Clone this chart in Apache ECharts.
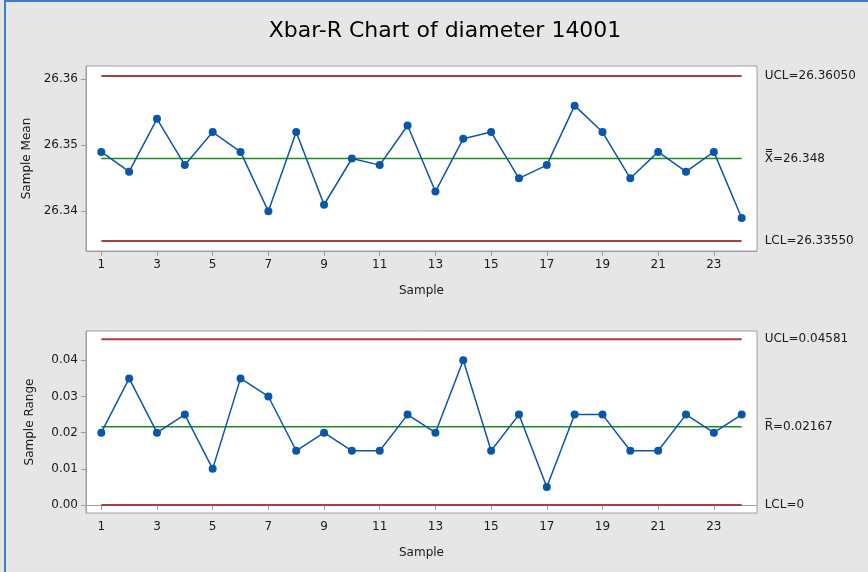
<!DOCTYPE html>
<html>
<head>
<meta charset="utf-8">
<script src="https://cdn.jsdelivr.net/npm/echarts@6/dist/echarts.min.js"></script>
<style>
  html, body { margin: 0; padding: 0; background: #e6e6e6; }
  #chart { width: 868px; height: 572px; }
</style>
</head>
<body>
<div id="chart"></div>
<script>
// 样本编号
const samples = [1, 2, 3, 4, 5, 6, 7, 8, 9, 10, 11, 12, 13, 14, 15, 16, 17, 18, 19, 20, 21, 22, 23, 24];
// Xbar 子组均值
const meanValues = [26.349, 26.346, 26.354, 26.347, 26.352, 26.349, 26.340, 26.352, 26.341, 26.348, 26.347, 26.353,
  26.343, 26.351, 26.352, 26.345, 26.347, 26.356, 26.352, 26.345, 26.349, 26.346, 26.349, 26.339];
// R 子组极差
const rangeValues = [0.020, 0.035, 0.020, 0.025, 0.010, 0.035, 0.030, 0.015, 0.020, 0.015, 0.015, 0.025,
  0.020, 0.040, 0.015, 0.025, 0.005, 0.025, 0.025, 0.015, 0.015, 0.025, 0.020, 0.025];
// 控制限
const xbarLimits = { ucl: 26.3605, cl: 26.348, lcl: 26.3355 };
const rLimits = { ucl: 0.04581, cl: 0.02167, lcl: 0 };
// 刻度
const sampleTicks = [1, 3, 5, 7, 9, 11, 13, 15, 17, 19, 21, 23];
const meanTicks = [26.34, 26.35, 26.36];
const rangeTicks = [0, 0.01, 0.02, 0.03, 0.04];

const first = samples[0];
const last = samples[samples.length - 1];
const textColor = "#1a1a1a";
const axisGrey = "#a0a0a0";
const font = "DejaVu Sans";

function xAxisCfg(gridIndex) {
  return {
    type: "value",
    gridIndex: gridIndex,
    min: 0.45,
    max: 24.55,
    name: "Sample",
    nameLocation: "middle",
    nameGap: 34,
    nameTextStyle: { color: textColor, fontFamily: font, fontSize: 12 },
    axisLine: { show: true, lineStyle: { color: axisGrey } },
    axisTick: { show: true, length: 5, customValues: sampleTicks, lineStyle: { color: axisGrey } },
    axisLabel: { customValues: sampleTicks, color: textColor, fontFamily: font, fontSize: 12, margin: 8 },
    splitLine: { show: false },
  };
}

function yAxisCfg(gridIndex, name, min, max, ticks, digits) {
  return {
    type: "value",
    gridIndex: gridIndex,
    min: min,
    max: max,
    name: name,
    nameLocation: "middle",
    nameGap: 50,
    nameTextStyle: { color: textColor, fontFamily: font, fontSize: 12 },
    axisLine: { show: true, lineStyle: { color: axisGrey } },
    axisTick: { show: true, length: 5, customValues: ticks, lineStyle: { color: axisGrey } },
    axisLabel: {
      customValues: ticks,
      color: textColor,
      fontFamily: font,
      fontSize: 12,
      margin: 8,
      formatter: (v) => v.toFixed(digits),
    },
    splitLine: { show: false },
  };
}

function limitLine(xi, value, color, width, text) {
  return {
    type: "line",
    xAxisIndex: xi,
    yAxisIndex: xi,
    data: [[first, value], [last, value]],
    symbol: "none",
    silent: true,
    clip: false,
    lineStyle: { color: color, width: width },
    endLabel: {
      show: true,
      formatter: text,
      distance: 23,
      color: textColor,
      fontFamily: font,
      fontSize: 12,
    },
    z: 2,
  };
}

function dataLine(xi, values) {
  return {
    type: "line",
    xAxisIndex: xi,
    yAxisIndex: xi,
    data: samples.map((s, i) => [s, values[i]]),
    symbol: "circle",
    symbolSize: 8,
    itemStyle: { color: "#0a56a8" },
    lineStyle: { color: "#0a56a8", width: 1.5 },
    z: 5,
  };
}

const chart = echarts.init(document.getElementById("chart"));
chart.setOption({
  backgroundColor: "#e6e6e6",
  animation: false,
  title: {
    text: "Xbar-R Chart of diameter 14001",
    left: 440,
    textAlign: "center",
    top: 15,
    textStyle: { color: "#000000", fontFamily: font, fontSize: 22, fontWeight: "normal" },
  },
  graphic: [
    { type: "line", shape: { x1: 5, y1: 0, x2: 5, y2: 572 }, style: { stroke: "#3d7cc9", lineWidth: 2 } },
    { type: "line", shape: { x1: 5, y1: 1, x2: 868, y2: 1 }, style: { stroke: "#3d7cc9", lineWidth: 2 } },
  ],
  grid: [
    { left: 86, top: 66, width: 671, height: 185, show: true, backgroundColor: "#ffffff", borderColor: axisGrey },
    { left: 86, top: 331, width: 671, height: 182, show: true, backgroundColor: "#ffffff", borderColor: axisGrey },
  ],
  xAxis: [xAxisCfg(0), xAxisCfg(1)],
  yAxis: [
    yAxisCfg(0, "Sample Mean", 26.334, 26.362, meanTicks, 2),
    yAxisCfg(1, "Sample Range", -0.0022, 0.0481, rangeTicks, 2),
  ],
  series: [
    limitLine(0, xbarLimits.ucl, "#b03c3c", 2, "UCL=" + xbarLimits.ucl.toFixed(5)),
    limitLine(0, xbarLimits.cl, "#1e8c1e", 1.5, "X\u033F=" + xbarLimits.cl.toFixed(3)),
    limitLine(0, xbarLimits.lcl, "#b03c3c", 2, "LCL=" + xbarLimits.lcl.toFixed(5)),
    dataLine(0, meanValues),
    limitLine(1, rLimits.ucl, "#b03c3c", 2, "UCL=" + rLimits.ucl.toFixed(5)),
    limitLine(1, rLimits.cl, "#1e8c1e", 1.5, "R\u0305=" + rLimits.cl.toFixed(5)),
    limitLine(1, rLimits.lcl, "#b03c3c", 2, "LCL=" + rLimits.lcl),
    dataLine(1, rangeValues),
  ],
});
window.addEventListener("resize", () => chart.resize());
</script>
</body>
</html>
